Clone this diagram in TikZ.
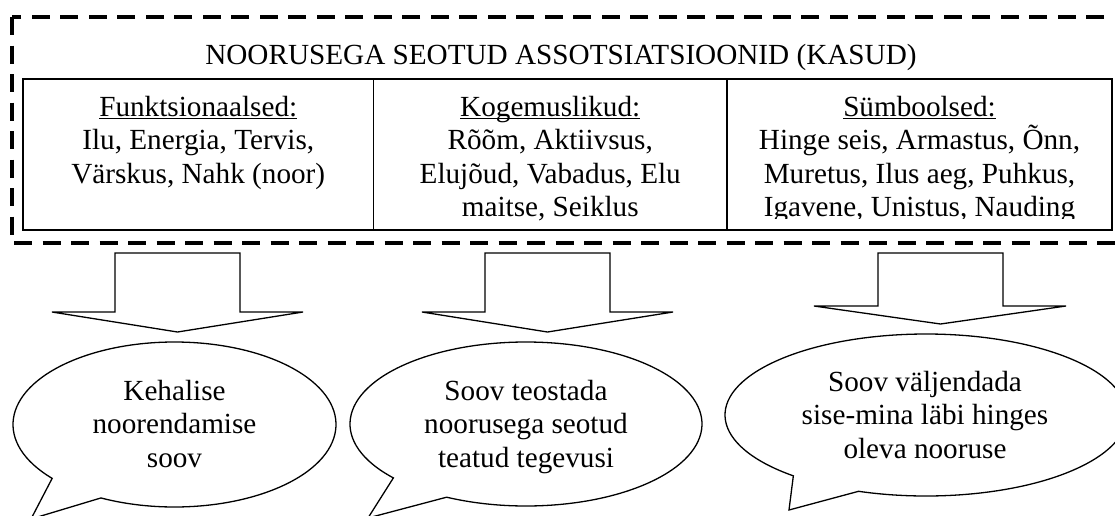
\documentclass[tikz,border=0pt]{standalone}
\usepackage{fontspec}
\setmainfont{Liberation Serif}
\newsavebox\ulbox
% underline set at a fixed depth below the baseline
\newcommand\uln[1]{\sbox\ulbox{#1}\rlap{\rule[-1.6pt]{\wd\ulbox}{0.65pt}}\usebox\ulbox}
\begin{document}
\begin{tikzpicture}[x=0.5pt,y=-0.5pt,
  txt/.style={font=\fontsize{14.6}{16.75}\selectfont, inner sep=0pt, align=center},
  colbox/.style={draw, line width=0.65pt, inner sep=0pt},
  dashframe/.style={draw, line width=1.75pt, dash pattern=on 9pt off 5.25pt},
  blockarrow/.style={draw, fill=white, line width=0.65pt, line join=miter},
  bubble/.style={draw, fill=white, line width=0.65pt, line join=miter}]
\useasboundingbox (0,0) rectangle (1115,515);
\clip (0,0) rectangle (1115,515);

% outer dashed frame
\draw[dashframe] (12,17) rectangle (1130,243);
\node[txt, anchor=base] (title) at (561,64) {NOORUSEGA SEOTUD ASSOTSIATSIOONID (KASUD)};

% three category cells
\node[colbox, minimum width=175.25pt, minimum height=75.5pt] (col1) at (198.25,154.5) {};
\node[colbox, minimum width=176.75pt, minimum height=75.5pt] (col2) at (550.25,154.5) {};
\node[colbox, minimum width=192.5pt, minimum height=75.5pt] (col3) at (919.5,154.5) {};

% the base anchor of a multi-line node sits on its last line
\node[txt, anchor=base] (txt1) at (198.25,183)
  {\uln{Funktsionaalsed:}\\Ilu, Energia, Tervis,\\Värskus, Nahk (noor)};
\node[txt, anchor=base] (txt2) at (550.25,216.5)
  {\uln{Kogemuslikud:}\\Rõõm, Aktiivsus,\\Elujõud, Vabadus, Elu\\maitse, Seiklus};
\begin{scope}
  \clip (727,79) rectangle (1112,218.5);
  \node[txt, anchor=base] (txt3) at (919.5,216.5)
    {\uln{Sümboolsed:}\\Hinge seis, Armastus, Õnn,\\Muretus, Ilus aeg, Puhkus,\\Igavene, Unistus, Nauding};
\end{scope}

% block arrows
\draw[blockarrow] (115,253) -- (240,253) -- (240,312) -- (303,312) -- (177.5,332)
  -- (52,312) -- (115,312) -- cycle;
\draw[blockarrow] (485,253) -- (610,253) -- (610,312) -- (673,312) -- (547.5,332)
  -- (422,312) -- (485,312) -- cycle;
\draw[blockarrow] (878,253) -- (1003,253) -- (1003,306) -- (1066,306) -- (940.5,324)
  -- (814,306) -- (878,306) -- cycle;

% speech bubbles
\coordinate (e1) at (174.5,424.5);
\coordinate (e2) at (526,424);
\coordinate (e3) at (926,415);
\coordinate (tip1) at (31,519);
\coordinate (tip2) at (368,518);
\coordinate (tip3) at (789,510);
\draw[bubble] ([shift={(139.25:161.5 and 82.5)}]e1)
  arc[start angle=139.25, end angle=477.1, x radius=161.5, y radius=82.5] -- (tip1) -- cycle;
\draw[bubble] ([shift={(138.9:176 and 82)}]e2)
  arc[start angle=138.9, end angle=476.8, x radius=176, y radius=82] -- (tip2) -- cycle;
\draw[bubble] ([shift={(131.3:201 and 81)}]e3)
  arc[start angle=131.3, end angle=469.6, x radius=201, y radius=81] -- (tip3) -- cycle;

\node[txt, anchor=base] (b1) at (174.5,467) {Kehalise\\noorendamise\\soov};
\node[txt, anchor=base] (b2) at (526,467) {Soov teostada\\noorusega seotud\\teatud tegevusi};
\node[txt, anchor=base] (b3) at (925,458) {Soov väljendada\\sise-mina läbi hinges\\oleva nooruse};
\end{tikzpicture}
\end{document}
